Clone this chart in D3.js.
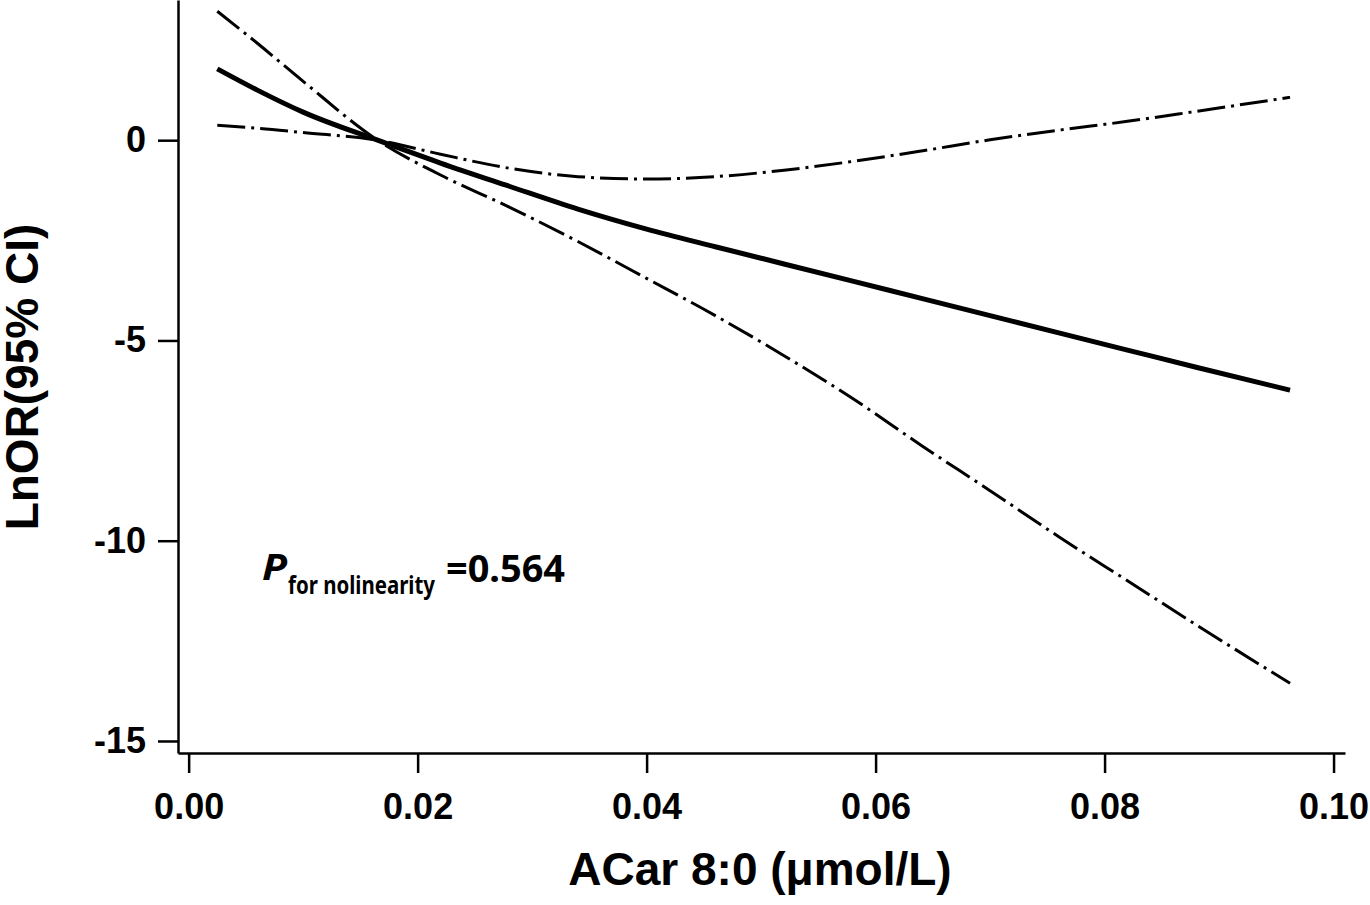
<!DOCTYPE html>
<html>
<head>
<meta charset="utf-8">
<script src="https://cdn.jsdelivr.net/npm/d3@7"></script>
<style>
 body { margin: 0; background: #fff; }
 svg { display: block; }
</style>
</head>
<body>
<svg></svg>
<script>
// data
const xValues = [0.0025, 0.006, 0.010, 0.0165, 0.022, 0.028, 0.034, 0.040, 0.046,
 0.052, 0.058, 0.064, 0.070, 0.076, 0.082, 0.088, 0.0962];
const lnOR = [1.78, 1.25, 0.70, 0, -0.57, -1.15, -1.72, -2.22, -2.66,
 -3.09, -3.52, -3.95, -4.38, -4.81, -5.24, -5.67, -6.24];
const upperCI = [0.37, 0.30, 0.19, 0, -0.35, -0.70, -0.91, -0.97, -0.91,
 -0.75, -0.53, -0.27, 0.01, 0.25, 0.47, 0.72, 1.07];
const lowerCI = [3.22, 2.42, 1.47, 0, -0.87, -1.67, -2.53, -3.45, -4.38,
 -5.38, -6.45, -7.62, -8.75, -9.90, -11.0, -12.1, -13.56];
const xTicks = [0, 0.02, 0.04, 0.06, 0.08, 0.10];
const yTicks = [0, -5, -10, -15];

const width = 1370;
const height = 905;
let svg = d3.select("svg")
 .attr("width", width)
 .attr("height", height);

// scales
let x = d3.scaleLinear()
 .domain([-0.00093, 0.101])
 .range([178, 1345]);
let y = d3.scaleLinear()
 .domain([3.5, -15.3])
 .range([0, 753]);

const font = "'Liberation Sans', Arial, sans-serif";

// x axis
let xAxis = svg.append("g")
 .attr("transform", "translate(0,753)")
 .call(d3.axisBottom(x)
 .tickValues(xTicks)
 .tickFormat(d3.format(".2f"))
 .tickSize(20)
 .tickSizeOuter(0)
 .tickPadding(20));
// y axis
let yAxis = svg.append("g")
 .attr("transform", "translate(178,0)")
 .call(d3.axisLeft(y)
 .tickValues(yTicks)
 .tickFormat(d3.format("d"))
 .tickSize(20)
 .tickSizeOuter(0)
 .tickPadding(12));

[xAxis, yAxis].forEach(a => {
 a.selectAll("path, line")
 .attr("stroke", "#000")
 .attr("stroke-width", 2.5);
 a.selectAll("text")
 .attr("fill", "#000")
 .style("font-family", font)
 .style("font-weight", "bold")
 .style("font-size", "36px");
});
// plain hyphen as in the original
yAxis.selectAll("text").text(d => String(d));

// axis titles
svg.append("text")
 .attr("x", 760)
 .attr("y", 885)
 .attr("text-anchor", "middle")
 .style("font-family", font)
 .style("font-weight", "bold")
 .style("font-size", "46px")
 .text("ACar 8:0 (μmol/L)");
svg.append("text")
 .attr("transform", "translate(38,377) rotate(-90)")
 .attr("text-anchor", "middle")
 .style("font-family", font)
 .style("font-weight", "bold")
 .style("font-size", "46px")
 .text("LnOR(95% CI)");

// curves
let line = (vals) => d3.line()
 .x((d, i) => x(xValues[i]))
 .y((d) => y(d))
 .curve(d3.curveMonotoneX)(vals);

svg.append("path")
 .attr("d", line(upperCI))
 .attr("fill", "none")
 .attr("stroke", "#000")
 .attr("stroke-width", 3)
 .attr("stroke-dasharray", "28,6,3,6");
svg.append("path")
 .attr("d", line(lowerCI))
 .attr("fill", "none")
 .attr("stroke", "#000")
 .attr("stroke-width", 3)
 .attr("stroke-dasharray", "28,6,3,6");
svg.append("path")
 .attr("d", line(lnOR))
 .attr("fill", "none")
 .attr("stroke", "#000")
 .attr("stroke-width", 5);

// p value note
const noteFont = "'Noto Sans', 'Open Sans', sans-serif";
svg.append("text")
 .attr("x", 262)
 .attr("y", 580)
 .attr("textLength", 25)
 .attr("lengthAdjust", "spacingAndGlyphs")
 .style("font-family", noteFont)
 .style("font-weight", "bold")
 .style("font-style", "italic")
 .style("font-size", "35px")
 .text("P");
svg.append("text")
 .attr("x", 288)
 .attr("y", 594)
 .attr("textLength", 147)
 .attr("lengthAdjust", "spacingAndGlyphs")
 .style("font-family", noteFont)
 .style("font-weight", "bold")
 .style("font-size", "25px")
 .text("for nolinearity");
svg.append("text")
 .attr("x", 446)
 .attr("y", 582)
 .attr("textLength", 119)
 .attr("lengthAdjust", "spacingAndGlyphs")
 .style("font-family", noteFont)
 .style("font-weight", "bold")
 .style("font-size", "37px")
 .text("=0.564");
</script>
</body>
</html>
